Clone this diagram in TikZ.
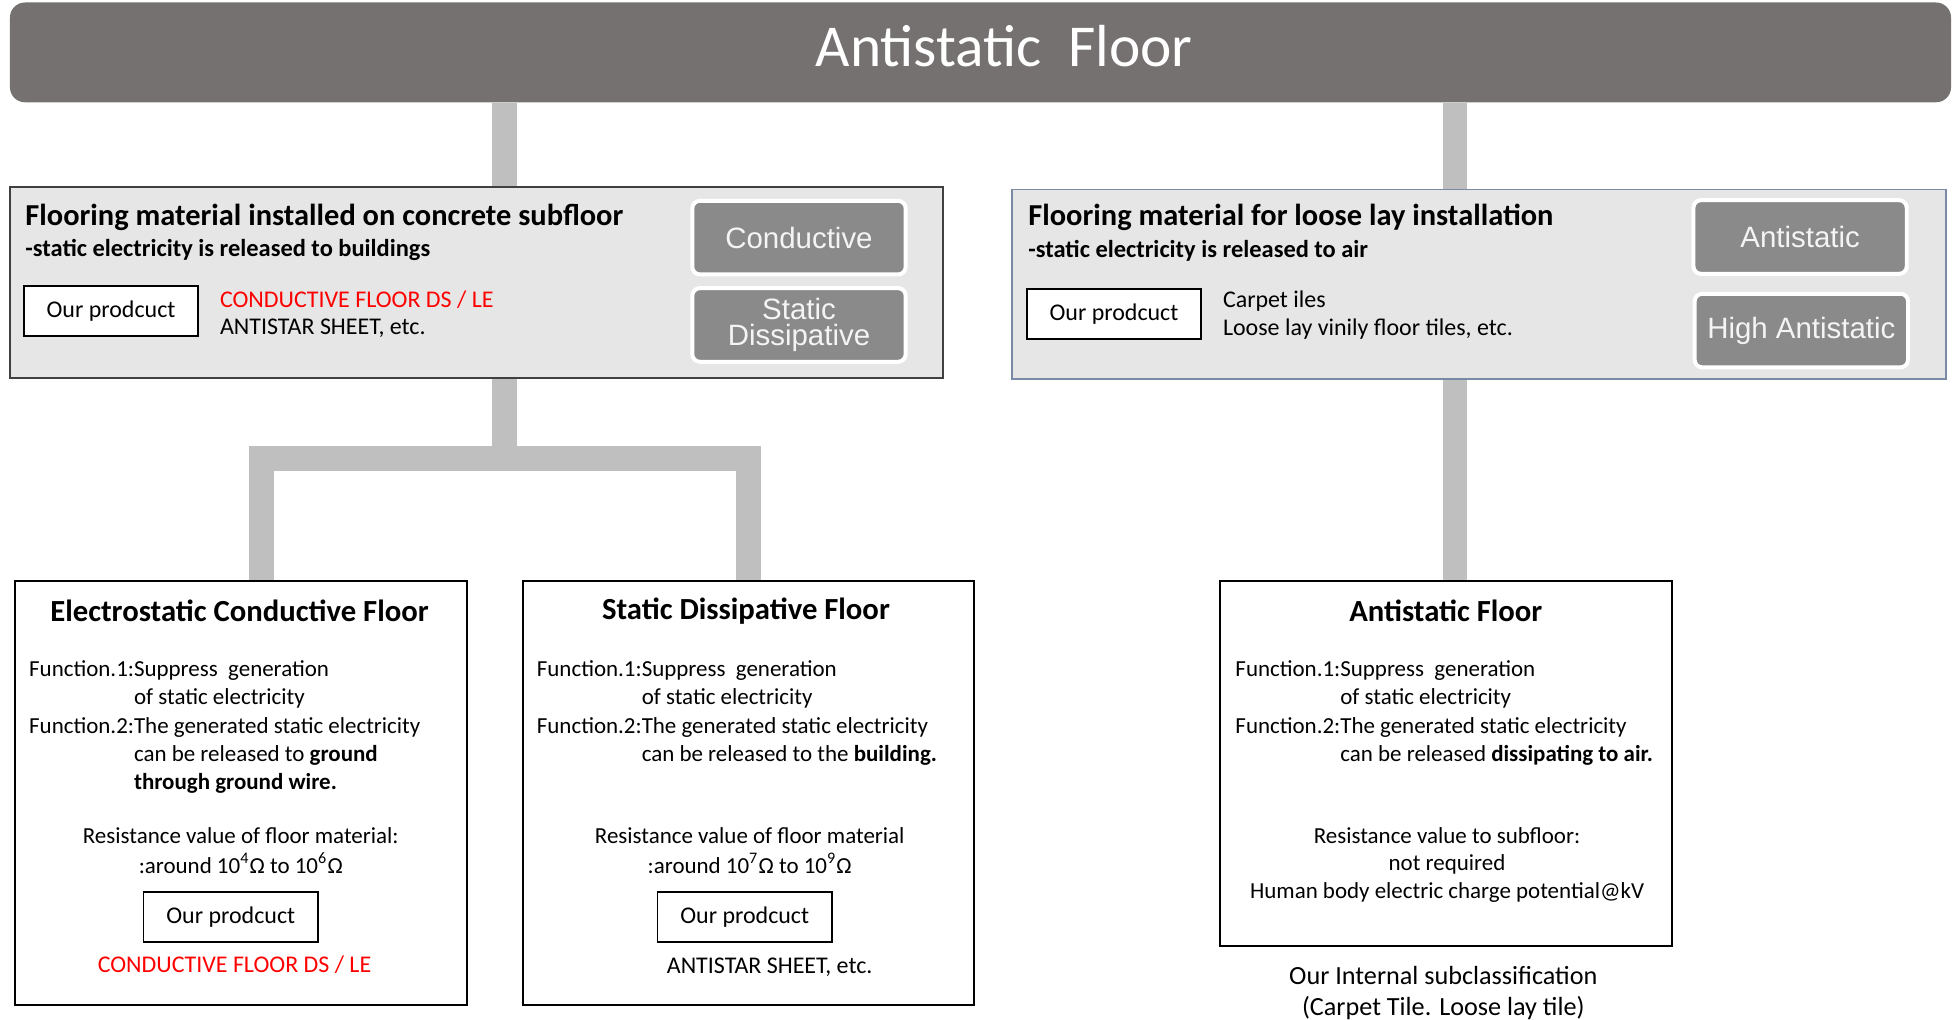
\documentclass[tikz,border=0pt]{standalone}
\usepackage{fontspec}
\setmainfont{Carlito}
\newfontfamily\arialfont{Liberation Sans}
\usetikzlibrary{calc,backgrounds}
\definecolor{titlegray}{HTML}{767171}
\definecolor{panelgray}{HTML}{E7E6E6}
\definecolor{bargray}{HTML}{BFBFBF}
\definecolor{btngray}{HTML}{8A8A8A}
\definecolor{btntext}{HTML}{F4F4F4}
\definecolor{leftborder}{HTML}{404040}
\definecolor{rightborder}{HTML}{7A8AA6}
\definecolor{redtext}{HTML}{FF0000}
\newcommand{\bodyf}{\fontsize{9.2}{11.3}\selectfont}
\begin{document}
\begin{tikzpicture}[x=0.5pt,y=-0.5pt,
  titlebar/.style={fill=titlegray, draw=none, rounded corners=6pt, inner sep=0pt},
  titletext/.style={text=white, inner sep=0pt, font=\fontsize{23.8}{26}\selectfont},
  panel/.style={fill=panelgray, line width=0.7pt, inner sep=0pt},
  btn/.style={fill=btngray, draw=white, line width=1.6pt, rounded corners=3pt, inner sep=0pt,
    minimum width=85.5pt, minimum height=29.5pt, text=btntext,
    font=\arialfont\fontsize{11.8}{10.5}\selectfont, align=center},
  prod/.style={fill=white, draw=black, line width=0.7pt, inner sep=0pt,
    minimum width=70pt, minimum height=20pt, font=\fontsize{9.6}{11}\selectfont},
  floorbox/.style={fill=white, draw=black, line width=0.8pt, inner sep=0pt, minimum width=181pt},
  bar/.style={draw=bargray, line width=9.75pt, line join=miter, line cap=butt},
  ptitle/.style={anchor=west, inner sep=0pt, font=\bfseries\fontsize{12.2}{14}\selectfont},
  psub/.style={anchor=west, inner sep=0pt, font=\bfseries\fontsize{9.8}{11}\selectfont},
  ptxt/.style={anchor=west, inner sep=0pt, font=\fontsize{9.6}{11}\selectfont},
  btitle/.style={inner sep=0pt, font=\bfseries\fontsize{12.3}{14}\selectfont},
  func/.style={anchor=base west, inner sep=0pt, font=\bodyf},
  resist/.style={anchor=base, inner sep=0pt, align=center, font=\fontsize{9.2}{12}\selectfont},
  cen/.style={inner sep=0pt, font=\fontsize{9.6}{11}\selectfont}
]
\useasboundingbox (0,0) rectangle (1568,817);

% title bar
\node[titlebar, minimum width=778pt, minimum height=40pt] (title) at (786,42) {};
\node[titletext] (ttl) at (805,37) {Antistatic\hspace{0.45em}Floor};

% upper panels
\node[panel, draw=leftborder, minimum width=374pt, minimum height=76.5pt] (lbox) at (382,226.5) {};
\node[panel, draw=rightborder, minimum width=374.5pt, minimum height=76pt] (rbox) at (1185.5,228) {};

% bottom boxes
\node[floorbox, minimum height=170pt] (b1) at (193,636) {};
\node[floorbox, minimum height=170pt] (b2) at (600,636) {};
\node[floorbox, minimum height=146pt] (b3) at (1159,612) {};

% connectors
\coordinate (xL) at (404.5,0);
\coordinate (xR) at (1166.5,0);
\coordinate (hy) at (0,367.5);
\coordinate (d1) at (209.5,0);
\coordinate (d2) at (600,0);
\begin{scope}[on background layer]
\draw[bar] (title.south -| xL) -- (lbox.north -| xL);
\draw[bar] (title.south -| xR) -- (rbox.north -| xR);
\draw[bar] (lbox.south -| xL) -- (xL |- hy);
\draw[bar] (b1.north -| d1) -- (d1 |- hy) -- (d2 |- hy) -- (b2.north -| d2);
\draw[bar] (rbox.south -| xR) -- (b3.north -| xR);
\end{scope}

% buttons
\node[btn] (bcond) at (640.5,190.5) {Conductive};
\node[btn] (bsd) at (640.5,260.5) {Static\\Dissipative};
\node[btn] (banti) at (1443,190) {Antistatic};
\node[btn] (bhigh) at (1444,265) {High Antistatic};

% upper panel texts
\node[ptitle] (lt) at (20,174) {Flooring material installed on concrete subfloor};
\node[psub] (ls) at (20,200) {-static electricity is released to buildings};
\node[prod] (lprod) at (89,249.5) {Our prodcuct};
\node[ptxt, text=redtext] (lp1) at (176,240) {CONDUCTIVE FLOOR DS / LE};
\node[ptxt] (lp2) at (176,263) {ANTISTAR SHEET, etc.};

\node[ptitle] (rt) at (824,174) {Flooring material for loose lay installation};
\node[psub] (rs) at (824,201) {-static electricity is released to air};
\node[prod] (rprod) at (893,251.5) {Our prodcuct};
\node[ptxt] (rp1) at (980,241) {Carpet iles};
\node[ptxt] (rp2) at (980,264) {Loose lay vinily floor tiles, etc.};

% box 1
\node[btitle] (t1) at (192,490) {Electrostatic Conductive Floor};
\node[func] (f1) at (23,542.5) {\begin{tabular}[t]{@{}l@{}l@{}}Function.1:&Suppress~ generation\\ &of static electricity\\ Function.2:&The generated static electricity\\ &can be released to \textbf{ground}\\ &\textbf{through ground wire.}\end{tabular}};
\node[resist] (r1) at (193,700) {Resistance value of floor material:\\:around 10\textsuperscript{4}Ω to 10\textsuperscript{6}Ω};
\node[prod] (p1) at (185,735) {Our prodcuct};
\node[cen, text=redtext] (c1) at (188,773) {CONDUCTIVE FLOOR DS / LE};

% box 2
\node[btitle] (t2) at (598,490) {Static Dissipative Floor};
\node[func] (f2) at (430,542.5) {\begin{tabular}[t]{@{}l@{}l@{}}Function.1:&Suppress~ generation\\ &of static electricity\\ Function.2:&The generated static electricity\\ &can be released to the \textbf{building.}\end{tabular}};
\node[resist] (r2) at (601,700) {Resistance value of floor material\\:around 10\textsuperscript{7}Ω to 10\textsuperscript{9}Ω};
\node[prod] (p2) at (597,735) {Our prodcuct};
\node[cen] (c2) at (617,775) {ANTISTAR SHEET, etc.};

% box 3
\node[btitle] (t3) at (1159,490) {Antistatic Floor};
\node[func] (f3) at (990,542.5) {\begin{tabular}[t]{@{}l@{}l@{}}Function.1:&Suppress~ generation\\ &of static electricity\\ Function.2:&The generated static electricity\\ &can be released \textbf{dissipating to air.}\end{tabular}};
\node[resist, font=\fontsize{9.2}{11}\selectfont] (r3) at (1160,720) {Resistance value to subfloor:\\not required\\Human body electric charge potential@kV};
\node[resist, font=\fontsize{10.5}{12.5}\selectfont] (sub3) at (1157,814) {Our Internal subclassification\\(Carpet Tile. Loose lay tile)};
\end{tikzpicture}
\end{document}
